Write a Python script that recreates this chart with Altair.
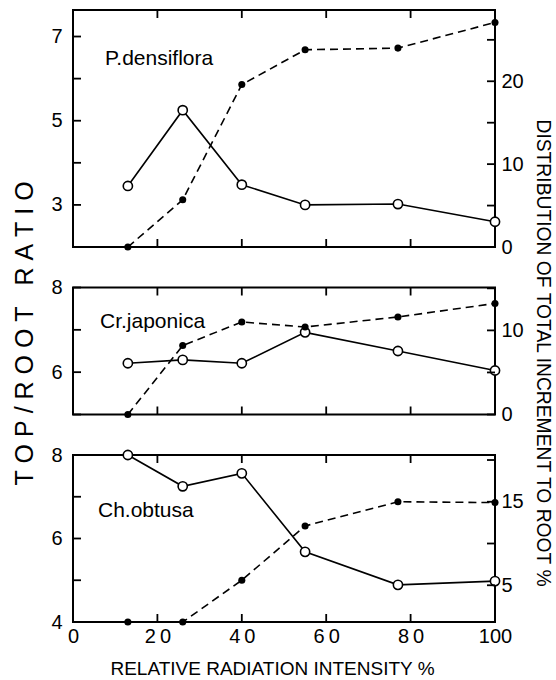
import altair as alt
import pandas as pd

# Relative radiation intensity (%) at which seedlings were grown
intensity = [13, 26, 40, 55, 77, 100]

# Top/root ratio (left axis, solid line, open circles)
ratio_pd = [3.45, 5.25, 3.48, 3.00, 3.02, 2.60]
ratio_cj = [6.21, 6.29, 6.21, 6.94, 6.50, 6.04]
ratio_co = [8.00, 7.25, 7.56, 5.68, 4.89, 4.98]

# Distribution of total increment to root, % (right axis, dashed line, dots)
root_pd = [0.0, 5.7, 19.6, 23.8, 24.0, 27.1]
root_cj = [0.0, 8.2, 11.0, 10.4, 11.6, 13.2]
root_co = [0.6, 0.6, 5.6, 12.1, 15.0, 14.9]

species = ["P.densiflora", "Cr.japonica", "Ch.obtusa"]

x_ticks = [0, 20, 40, 60, 80, 100]

FONT = "Liberation Sans"
W = 422
INSET = 8  # inward tick length
NB = "\u00a0"
H_TICK = "M-1,0L1,0"  # horizontal tick glyph
V_TICK = "M0,-1L0,1"  # vertical tick glyph


def spaced(words, gap=3):
    # letter-spaced title, kept intact by non-breaking spaces
    return (NB * gap).join(NB.join(w) for w in words)


def tick_marks(values, channel, scale, pos):
    """Inward tick marks along one edge, placed through the panel's scale."""
    tdf = pd.DataFrame({"v": values})
    shape = H_TICK if channel == "y" else V_TICK
    base = alt.Chart(tdf).mark_point(shape=shape, filled=False, color="black",
                                     strokeWidth=1.8, size=INSET * INSET, opacity=1)
    if channel == "y":
        return base.encode(y=alt.Y("v:Q", scale=scale, axis=None), x=alt.value(pos))
    return base.encode(x=alt.X("v:Q", scale=scale, axis=None), y=alt.value(pos))


def panel(ratio, root, name, name_pos, height,
          left_dom, left_vals, left_labels,
          right_dom, right_vals, right_labels,
          show_x_labels=False, left_title=None, right_title=None, x_title=None):
    df = pd.DataFrame({"x": intensity, "ratio": ratio, "root": root})
    xs = alt.Scale(domain=[0, 100], nice=False, zero=False)
    ys_l = alt.Scale(domain=left_dom, nice=False, zero=False)
    ys_r = alt.Scale(domain=right_dom, nice=False, zero=False)
    common = dict(ticks=False, domain=False, grid=False, labelFlush=False)

    left_kw = dict(orient="left", values=left_vals, labelFontSize=20, labelPadding=11,
                   labelExpr=f"indexof({left_labels}, datum.value) >= 0 ? datum.label : ''",
                   **common)
    if left_title:
        left_kw.update(title=left_title, titleFontSize=25, titleAngle=270,
                       titleX=-49, titleY=45.5, titleAlign="center",
                       titleBaseline="middle", titleFontWeight="normal")
    else:
        left_kw.update(title=None)

    right_kw = dict(orient="right", values=right_vals, labelFontSize=20, labelPadding=6,
                    labelExpr=f"indexof({right_labels}, datum.value) >= 0 ? datum.label : ''",
                    **common)
    if right_title:
        right_kw.update(title=right_title, titleFontSize=19.3, titleAngle=90,
                        titleX=47, titleY=65, titleAlign="center",
                        titleBaseline="middle", titleFontWeight="normal")
    else:
        right_kw.update(title=None)

    bottom_kw = dict(orient="bottom", values=x_ticks, labels=show_x_labels,
                     labelFontSize=20, labelPadding=4,
                     labelExpr="datum.value == 100 ? '100' : join(split(datum.label, ''), '\u2009')",
                     **common)
    if x_title:
        bottom_kw.update(title=x_title, titleFontSize=19, titleX=199, titleY=52,
                         titleAlign="center", titleBaseline="alphabetic",
                         titleFontWeight="normal")
    else:
        bottom_kw.update(title=None)

    top_axis = alt.Axis(orient="top", values=x_ticks, labels=False, title=None, **common)

    base_l = alt.Chart(df).encode(
        x=alt.X("x:Q", scale=xs, axis=alt.Axis(**bottom_kw)),
        y=alt.Y("ratio:Q", scale=ys_l, axis=alt.Axis(**left_kw)),
    )
    line_l = base_l.mark_line(color="black", strokeWidth=1.6)
    pts_l = base_l.mark_point(shape="circle", filled=True, fill="white", stroke="black",
                              strokeWidth=1.6, size=85, opacity=1)
    label = alt.Chart(pd.DataFrame({"name": [name]})).mark_text(
        font=FONT, fontSize=21, align="left", baseline="alphabetic", color="black"
    ).encode(text="name:N", x=alt.value(name_pos[0]), y=alt.value(name_pos[1]))

    base_r = alt.Chart(df).encode(
        x=alt.X("x:Q", scale=xs, axis=top_axis),
        y=alt.Y("root:Q", scale=ys_r, axis=alt.Axis(**right_kw)),
    )
    line_r = base_r.mark_line(color="black", strokeWidth=1.6, strokeDash=[8, 5])
    pts_r = base_r.mark_circle(color="black", size=50, opacity=1)

    # inward ticks on all four edges, in layers of their own (no axes)
    half = INSET / 2
    ticks_l = alt.layer(
        tick_marks(left_vals, "y", ys_l, half),
        tick_marks(x_ticks, "x", xs, half),
        tick_marks(x_ticks, "x", xs, height - half),
    )
    ticks_r = tick_marks(right_vals, "y", ys_r, W - half)

    return alt.layer(
        alt.layer(line_l, pts_l, label),
        alt.layer(line_r, pts_r),
        ticks_l,
        ticks_r,
    ).resolve_scale(x="independent", y="independent").resolve_axis(
        x="independent", y="independent"
    ).properties(width=W, height=height)


p1 = panel(ratio_pd, root_pd, species[0], (32, 55), 237,
           [2, 7.63], [2, 3, 4, 5, 6, 7], [3, 5, 7],
           [0, 28.6], [0, 5, 10, 15, 20, 25], [0, 10, 20])
p2 = panel(ratio_cj, root_cj, species[1], (27, 40), 127,
           [5, 8], [5, 6, 7, 8], [6, 8],
           [0, 15.1], [0, 5, 10, 15], [0, 10],
           left_title=spaced(["TOP", "/", "ROOT", "RATIO"]).replace(NB * 3 + "/" + NB * 3, NB + "/" + NB),
           right_title="DISTRIBUTION OF TOTAL INCREMENT TO ROOT %")
p3 = panel(ratio_co, root_co, species[2], (25, 62), 167,
           [4, 8], [4, 5, 6, 7, 8], [4, 6, 8],
           [0.6, 20.6], [5, 10, 15, 20], [5, 15],
           show_x_labels=True, x_title="RELATIVE RADIATION INTENSITY %")

chart = alt.vconcat(p1, p2, p3, spacing=40.5, bounds="flush").properties(
    padding={"left": 10, "top": 5, "right": 2, "bottom": 2}
).configure(font=FONT).configure_view(
    stroke="black", strokeWidth=2
).configure_axis(
    labelColor="black", titleColor="black", labelFont=FONT, titleFont=FONT
)

chart.save("out.html", embed_options={"renderer": "svg", "actions": False})
